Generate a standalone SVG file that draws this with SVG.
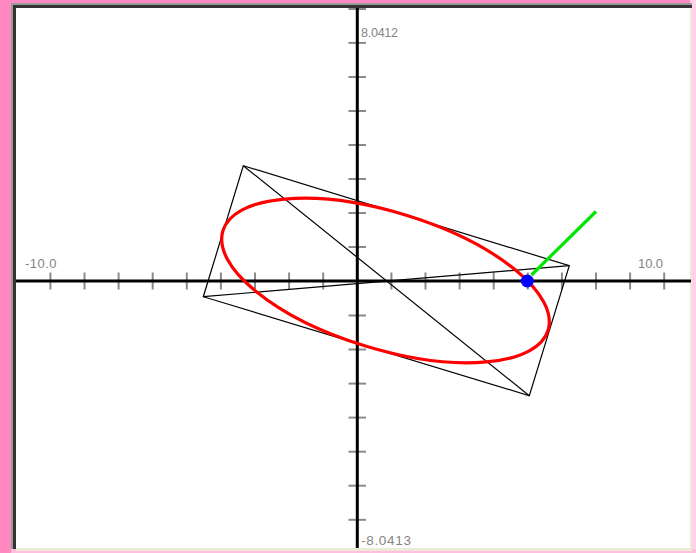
<svg xmlns="http://www.w3.org/2000/svg" width="696" height="553" viewBox="0 0 696 553">
<style>
.tick{stroke:#8a8a8a;stroke-width:2}
.axis{stroke:#000;stroke-width:3}
.thin{stroke:#000;stroke-width:1.2;fill:none}
.lbl{font-family:"Liberation Sans",Arial,sans-serif;font-size:12.5px;fill:#848484}
</style>
<g id="frame">
<rect x="0" y="0" width="696" height="553" fill="#ff88c0"/>
<rect x="690" y="0" width="6" height="553" fill="#ffd2ea"/>
<rect x="11" y="549" width="685" height="4" fill="#ffc0e0"/>
<rect x="11" y="3" width="681" height="546" fill="#9a9a9a"/>
<rect x="13" y="5" width="679" height="544" fill="#333"/>
<rect x="16" y="8" width="676" height="543" fill="#ece9d8"/>
<rect x="16" y="8" width="674" height="540" fill="#fff"/>
</g>
<g id="ticks">
<line class="tick" x1="50.4" y1="272.5" x2="50.4" y2="289.5"/>
<line class="tick" x1="84.5" y1="272.5" x2="84.5" y2="289.5"/>
<line class="tick" x1="118.6" y1="272.5" x2="118.6" y2="289.5"/>
<line class="tick" x1="152.7" y1="272.5" x2="152.7" y2="289.5"/>
<line class="tick" x1="186.8" y1="272.5" x2="186.8" y2="289.5"/>
<line class="tick" x1="220.9" y1="272.5" x2="220.9" y2="289.5"/>
<line class="tick" x1="255" y1="272.5" x2="255" y2="289.5"/>
<line class="tick" x1="289.1" y1="272.5" x2="289.1" y2="289.5"/>
<line class="tick" x1="323.2" y1="272.5" x2="323.2" y2="289.5"/>
<line class="tick" x1="391.4" y1="272.5" x2="391.4" y2="289.5"/>
<line class="tick" x1="425.5" y1="272.5" x2="425.5" y2="289.5"/>
<line class="tick" x1="459.6" y1="272.5" x2="459.6" y2="289.5"/>
<line class="tick" x1="493.7" y1="272.5" x2="493.7" y2="289.5"/>
<line class="tick" x1="527.8" y1="272.5" x2="527.8" y2="289.5"/>
<line class="tick" x1="561.9" y1="272.5" x2="561.9" y2="289.5"/>
<line class="tick" x1="596" y1="272.5" x2="596" y2="289.5"/>
<line class="tick" x1="630.1" y1="272.5" x2="630.1" y2="289.5"/>
<line class="tick" x1="664.2" y1="272.5" x2="664.2" y2="289.5"/>
<line class="tick" x1="348.5" y1="9" x2="366" y2="9"/>
<line class="tick" x1="348.5" y1="42.9" x2="366" y2="42.9"/>
<line class="tick" x1="348.5" y1="77" x2="366" y2="77"/>
<line class="tick" x1="348.5" y1="111" x2="366" y2="111"/>
<line class="tick" x1="348.5" y1="145" x2="366" y2="145"/>
<line class="tick" x1="348.5" y1="179" x2="366" y2="179"/>
<line class="tick" x1="348.5" y1="213" x2="366" y2="213"/>
<line class="tick" x1="348.5" y1="247" x2="366" y2="247"/>
<line class="tick" x1="348.5" y1="315.5" x2="366" y2="315.5"/>
<line class="tick" x1="348.5" y1="349.5" x2="366" y2="349.5"/>
<line class="tick" x1="348.5" y1="383.6" x2="366" y2="383.6"/>
<line class="tick" x1="348.5" y1="417.6" x2="366" y2="417.6"/>
<line class="tick" x1="348.5" y1="451.7" x2="366" y2="451.7"/>
<line class="tick" x1="348.5" y1="485.7" x2="366" y2="485.7"/>
<line class="tick" x1="348.5" y1="519.8" x2="366" y2="519.8"/>
</g>
<g id="axes">
<line class="axis" x1="16" y1="281" x2="691" y2="281"/>
<line class="axis" x1="357.3" y1="8" x2="357.3" y2="548"/>
</g>
<g id="labels">
<text class="lbl" x="361" y="37" textLength="37">8.0412</text>
<text class="lbl" x="361" y="545" textLength="50" style="font-size:13.5px">-8.0413</text>
<text class="lbl" x="25" y="268" textLength="31.5" style="font-size:13px">-10.0</text>
<text class="lbl" x="638" y="268" textLength="25" style="font-size:13px">10.0</text>
</g>
<g id="connectors">
<polygon class="thin" points="243.3,165.7 569.3,265.7 529.3,395.7 203.3,296.7"/>
<line class="thin" x1="243.3" y1="165.7" x2="529.3" y2="395.7"/>
<line class="thin" x1="203.3" y1="296.7" x2="569.3" y2="265.7"/>
</g>
<g id="ellipse">
<ellipse cx="385.5" cy="280.5" rx="170" ry="68.5" transform="rotate(17 385.5 280.5)" fill="none" stroke="#ff0000" stroke-width="3.2"/>
</g>
<g id="vector">
<line x1="531.5" y1="275" x2="596" y2="211.5" stroke="#00e600" stroke-width="3.2"/>
</g>
<g id="point">
<circle cx="527.3" cy="281" r="6.5" fill="#0000ff"/>
</g>
</svg>
